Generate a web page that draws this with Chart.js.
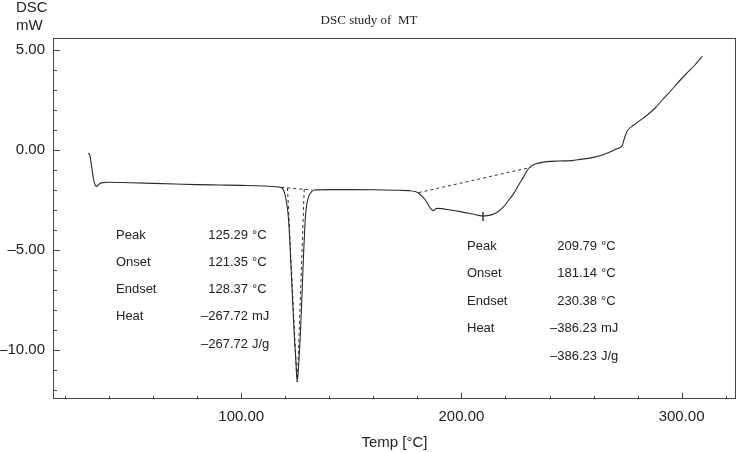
<!DOCTYPE html>
<html>
<head>
<meta charset="utf-8">
<script src="https://cdn.jsdelivr.net/npm/chart.js@4.4.0/dist/chart.umd.min.js"></script>
<style>
  html, body { margin: 0; padding: 0; background: #fff; }
</style>
</head>
<body>
<canvas id="dscChart" width="737" height="452"></canvas>
<script>
// DSC curve
const temps = [30.5, 31.3, 32.0, 32.8, 33.6, 34.4, 35.5, 37, 40, 50, 60, 70, 80, 90, 100, 110, 116, 118.5,
  120, 121.5, 123, 124.2, 124.9, 125.3, 125.7, 126.8, 127.6, 128.3, 128.9, 129.4, 130.6, 132, 133,
  141, 150, 160, 170, 176, 179, 181, 183.6, 185.5, 186.7, 187.4, 188.2, 189, 195, 199.5, 205, 209.5,
  212, 214.7, 217, 219.2, 221.5, 223.8, 226, 228.3, 230, 231.4, 233, 234.4, 238.9, 244.2, 250, 254,
  260, 264, 268, 270.3, 273, 274, 275.3, 278.3, 284.4, 288, 291.2, 295, 298, 302, 306, 309.4];
const dsc = [-0.15, -0.3, -0.8, -1.4, -1.75, -1.82, -1.7, -1.63, -1.61, -1.64, -1.67, -1.7, -1.73, -1.75, -1.77, -1.8, -1.84, -1.9,
  -2.3, -3.5, -6.8, -9.5, -10.7, -11.5, -11.3, -9.3, -7.2, -5.2, -3.8, -3.0, -2.33, -2.08, -2.0,
  -1.98, -1.98, -1.99, -2.01, -2.03, -2.08, -2.2, -2.5, -2.85, -3.0, -3.03, -2.95, -2.92, -3.0, -3.08, -3.2, -3.3,
  -3.28, -3.2, -3.05, -2.83, -2.5, -2.17, -1.75, -1.33, -1.0, -0.83, -0.72, -0.67, -0.58, -0.55, -0.53, -0.47,
  -0.37, -0.25, -0.08, 0.05, 0.22, 0.58, 0.95, 1.25, 1.75, 2.1, 2.5, 2.95, 3.33, 3.8, 4.25, 4.7];

// dashed construction lines (baselines and tangents)
const base1X = [118.2, 132.1];
const base1Y = [-1.87, -2.0];
const onsetX = [121.0, 125.3];
const onsetY = [-1.9, -11.6];
const endsetX = [128.6, 125.5];
const endsetY = [-1.95, -11.6];
const base2X = [180.6, 231.4];
const base2Y = [-2.13, -0.87];
const peakMarkX = [209.8, 209.8];
const peakMarkY = [-3.1, -3.55];

const xTicks = [100, 200, 300];
const yTicks = [5, 0, -5, -10];

const peak1Labels = ['Peak', 'Onset', 'Endset', 'Heat', ''];
const peak1Values = ['125.29', '121.35', '128.37', '\u2013267.72', '\u2013267.72'];
const peak1Units = ['\u00b0C', '\u00b0C', '\u00b0C', 'mJ', 'J/g'];
const peak2Labels = ['Peak', 'Onset', 'Endset', 'Heat', ''];
const peak2Values = ['209.79', '181.14', '230.38', '\u2013386.23', '\u2013386.23'];
const peak2Units = ['\u00b0C', '\u00b0C', '\u00b0C', 'mJ', 'J/g'];

function pts(xs, ys) {
  return xs.map((x, i) => ({ x: x, y: ys[i] }));
}

function dashed(xs, ys) {
  return { data: pts(xs, ys), showLine: true, borderColor: '#333', borderWidth: 1,
    borderDash: [3, 3], pointRadius: 0 };
}

const textFont = '"Liberation Sans", Arial, sans-serif';

// frame, inward ticks, axis unit and result tables
const decorations = {
  id: 'decorations',
  afterDraw(chart) {
    const c = chart.ctx;
    const a = chart.chartArea;
    const xs = chart.scales.x;
    const ys = chart.scales.y;
    c.save();
    c.strokeStyle = '#444';
    c.lineWidth = 1;
    c.strokeRect(a.left + 0.5, a.top + 0.5, a.right - a.left - 1, a.bottom - a.top - 1);

    c.beginPath();
    for (let v = 20; v <= 320; v += 20) {
      const px = Math.round(xs.getPixelForValue(v)) + 0.5;
      const len = v % 100 === 0 ? 6 : 3;
      c.moveTo(px, a.bottom);
      c.lineTo(px, a.bottom - len);
    }
    for (let v = -12; v <= 5; v += 1) {
      const py = Math.round(ys.getPixelForValue(v)) + 0.5;
      const len = v % 5 === 0 ? 7 : 4;
      c.moveTo(a.left, py);
      c.lineTo(a.left + len, py);
    }
    c.stroke();

    c.fillStyle = '#222';
    c.font = '15px ' + textFont;
    c.textBaseline = 'middle';
    c.textAlign = 'left';
    c.fillText('DSC', 16, 8);
    c.fillText('mW', 16, 26);

    c.font = '13px "Liberation Serif", "Times New Roman", serif';
    c.textAlign = 'center';
    c.fillText('DSC study of  MT', 369, 21);

    c.font = '13px ' + textFont;
    function table(labels, values, units, lx, nx, y0, dy) {
      labels.forEach((l, i) => {
        const y = y0 + i * dy;
        c.textAlign = 'left';
        c.fillText(l, lx, y);
        c.textAlign = 'right';
        c.fillText(values[i], nx, y);
        c.textAlign = 'left';
        c.fillText(units[i], nx + 4, y);
      });
    }
    table(peak1Labels, peak1Values, peak1Units, 116, 248, 235, 27.3);
    table(peak2Labels, peak2Values, peak2Units, 467, 597, 246, 27.5);
    c.restore();
  }
};

const ctx = document.getElementById('dscChart');

new Chart(ctx, {
  type: 'scatter',
  data: {
    datasets: [
      { data: pts(temps, dsc), showLine: true, borderColor: '#2a2a2a', borderWidth: 1.1,
        pointRadius: 0, cubicInterpolationMode: 'monotone' },
      dashed(base1X, base1Y),
      dashed(onsetX, onsetY),
      dashed(endsetX, endsetY),
      dashed(base2X, base2Y),
      { data: pts(peakMarkX, peakMarkY), showLine: true, borderColor: '#555', borderWidth: 1, pointRadius: 0 }
    ]
  },
  options: {
    responsive: false,
    animation: false,
    layout: { padding: { top: 38, right: 1, left: 0, bottom: 0 } },
    plugins: {
      legend: { display: false },
      tooltip: { enabled: false }
    },
    scales: {
      x: {
        type: 'linear',
        min: 14.5,
        max: 324.7,
        afterBuildTicks: s => { s.ticks = xTicks.map(v => ({ value: v })); },
        afterFit: s => { s.height = 53; },
        grid: { display: false, drawTicks: false },
        border: { display: false },
        ticks: {
          padding: 9,
          color: '#222',
          font: { family: textFont, size: 15 },
          callback: v => v.toFixed(2)
        },
        title: {
          display: true,
          text: 'Temp [\u00b0C]',
          color: '#222',
          font: { family: textFont, size: 15 },
          padding: { top: 0, bottom: 0 }
        }
      },
      y: {
        type: 'linear',
        min: -12.45,
        max: 5.6,
        afterBuildTicks: s => { s.ticks = yTicks.map(v => ({ value: v })); },
        afterFit: s => { s.width = 53; },
        grid: { display: false, drawTicks: false },
        border: { display: false },
        ticks: {
          padding: 8,
          color: '#222',
          font: { family: textFont, size: 15 },
          callback: v => (v < 0 ? '\u2013' + Math.abs(v).toFixed(2) : v.toFixed(2))
        }
      }
    }
  },
  plugins: [decorations]
});
</script>
</body>
</html>
